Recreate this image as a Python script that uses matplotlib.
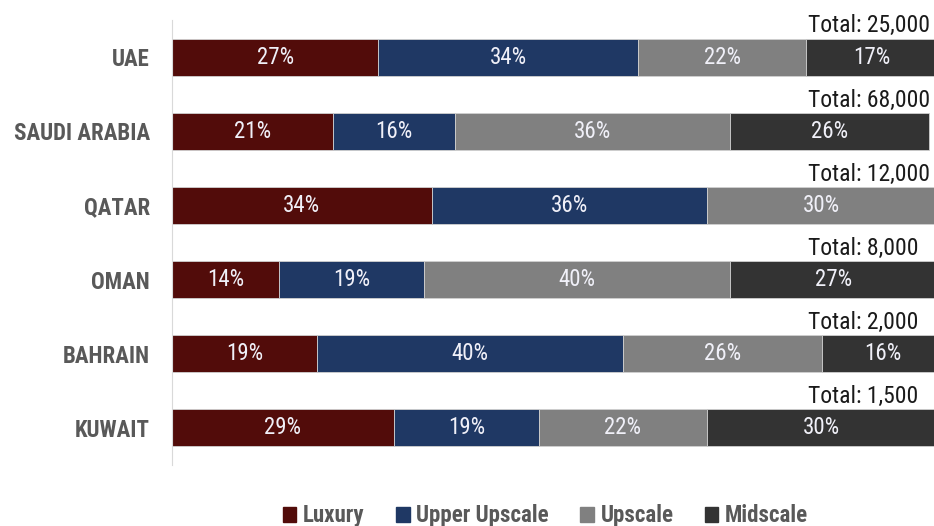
import matplotlib.pyplot as plt
from matplotlib.patches import Patch

# podily hotelovych segmentu podle zeme (v %)
zeme = ["UAE", "SAUDI ARABIA", "QATAR", "OMAN", "BAHRAIN", "KUWAIT"]
luxury = [27, 21, 34, 14, 19, 29]
upper_upscale = [34, 16, 36, 19, 40, 19]
upscale = [22, 36, 30, 40, 26, 22]
midscale = [17, 26, 0, 27, 16, 30]
celkem = ["25,000", "68,000", "12,000", "8,000", "2,000", "1,500"]

segmenty = ["Luxury", "Upper Upscale", "Upscale", "Midscale"]
barvy = ["#520c0a", "#1f3864", "#808080", "#333333"]

plt.rcParams['font.family'] = ['Roboto Condensed', 'Archivo Narrow', 'DejaVu Sans']

fig = plt.figure(figsize=(9.34, 5.26), dpi=100)
ax = fig.add_axes([172 / 934, 61 / 526, 762 / 934, 445 / 526])

y = list(range(len(zeme)))
vlevo = [0] * len(zeme)
for hodnoty, barva in zip([luxury, upper_upscale, upscale, midscale], barvy):
    ax.barh(y, hodnoty, left=vlevo, height=0.5, color=barva, edgecolor="#d0d0d0", linewidth=0.6)
    for i, v in enumerate(hodnoty):
        if v > 0:
            ax.text(vlevo[i] + v / 2, i, f"{v}%", ha="center", va="center",
                    color="#f0f0f8", fontsize=16.5)
    vlevo = [a + b for a, b in zip(vlevo, hodnoty)]

# popisky "Total" nad sloupci
for i, t in enumerate(celkem):
    ax.text((808 - 172) / 762, i - 0.265, f"Total: {t}", transform=ax.get_yaxis_transform(),
            ha="left", va="bottom", fontsize=17, color="#1a1a1a")

ax.set_xlim(0, 99.7)
ax.set_ylim(5.5, -0.5)
ax.set_yticks(y)
ax.set_yticklabels(zeme, fontsize=16.5, fontweight="bold", color="#595959")
ax.tick_params(axis="y", length=0, pad=16)
ax.set_xticks([])
for s in ["top", "right", "bottom"]:
    ax.spines[s].set_visible(False)
ax.spines["left"].set_color("#d9d9d9")

handles = [Patch(color=c, label=l) for c, l in zip(barvy, segmenty)]
leg = fig.legend(handles=handles, loc="lower center", bbox_to_anchor=(0.584, -0.042), ncol=4,
                 frameon=False, handlelength=0.6, handleheight=0.6, handletextpad=0.3,
                 columnspacing=1.35, prop={"size": 16.5, "weight": "bold"})
for t in leg.get_texts():
    t.set_color("#595959")

fig.savefig("out.png", dpi=100)
